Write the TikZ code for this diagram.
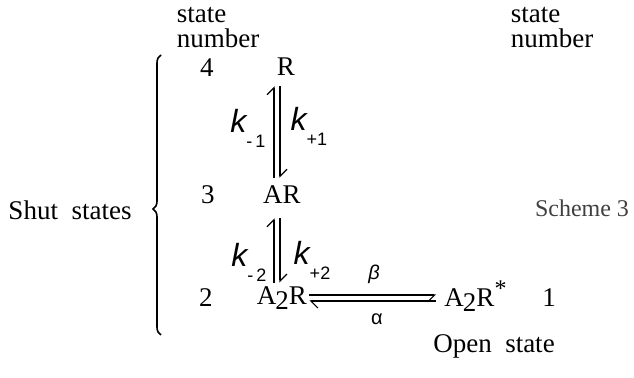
\documentclass[tikz,border=0pt]{standalone}
\usepackage{fontspec}
\setmainfont{Liberation Serif}
\newfontfamily\kfont{Liberation Sans}
\usetikzlibrary{arrows.meta,decorations.pathreplacing}

\newcommand{\rateconst}[1]{{\kfont\itshape\fontsize{16}{16}\selectfont k}\raisebox{-1.2ex}{\kfont\fontsize{9}{9}\selectfont #1}}
\newcommand{\Atwo}{A\kern-0.5pt\raisebox{-0.35ex}{2}R}

\begin{document}
\begin{tikzpicture}[x=0.5pt, y=-0.5pt, font=\fontsize{13.5}{12.5}\selectfont,
  every node/.style={inner sep=1pt},
  harp/.style={line width=0.6pt, -{Straight Barb[left, length=3.5pt]}},
  harpr/.style={line width=0.6pt, -{Straight Barb[right, length=3.5pt]}}]
  \useasboundingbox (0,0) rectangle (634,378);

  % column headings
  \node[align=left] (numL) at (218,28) {state\\number};
  \node[align=left] (numR) at (552,28) {state\\number};

  % states
  \node (n4) at (207,68) {4};
  \node (R) at (286,67) {R};
  \node (n3) at (208,195) {3};
  \node (AR) at (282,195) {AR};
  \node (n2) at (206,298) {2};
  \node (A2R) at (282,298) {\Atwo};
  \node (A2Rs) at (476,296) {\Atwo\textsuperscript{\large *}};
  \node (n1) at (549,298) {1};
  \node (open) at (494,346) {Open\ \ state};
  \node (shut) at (70,210) {Shut\ \ states};
  \node[text=black!75, font=\fontsize{12}{12}\selectfont] (scheme) at (582,208) {Scheme 3};

  % rate constants
  \node (km1) at (248,128) {\rateconst{-\,1}};
  \node (kp1) at (309,126) {\rateconst{+1}};
  \node (km2) at (249,262) {\rateconst{-\,2}};
  \node (kp2) at (312,260) {\rateconst{+2}};
  \node[font=\kfont\itshape] (beta) at (374,274) {β};
  \node[font=\kfont] (alpha) at (377,319) {α};

  % transitions
  \draw[harp, shorten <=3pt, shorten >=4pt] ([xshift=-6pt]R.south |- AR.north) -- ([xshift=-6pt]R.south);
  \draw[harp, shorten <=4pt, shorten >=3pt] ([xshift=-3pt]R.south) -- ([xshift=-3pt]R.south |- AR.north);
  \draw[harp, shorten <=1pt, shorten >=6pt] ([xshift=-6pt]R.south |- A2R.north) -- ([xshift=-6pt]R.south |- AR.south);
  \draw[harp, shorten <=6pt, shorten >=1pt] ([xshift=-3pt]R.south |- AR.south) -- ([xshift=-3pt]R.south |- A2R.north);
  \draw[harpr] ([yshift=1.5pt]A2R.east) -- ([yshift=1.5pt, xshift=-3pt]A2R.east -| A2Rs.west);
  \draw[harp] ([yshift=-1.5pt, xshift=-3pt]A2R.east -| A2Rs.west) -- ([yshift=-1.5pt]A2R.east);

  % brace round the shut states
  \coordinate (bb) at (161,335);
  \coordinate (bt) at (161,55);
  \draw[line width=0.8pt, decorate, decoration={brace, amplitude=4pt, aspect=0.45}] (bb) -- (bt);
\end{tikzpicture}
\end{document}
